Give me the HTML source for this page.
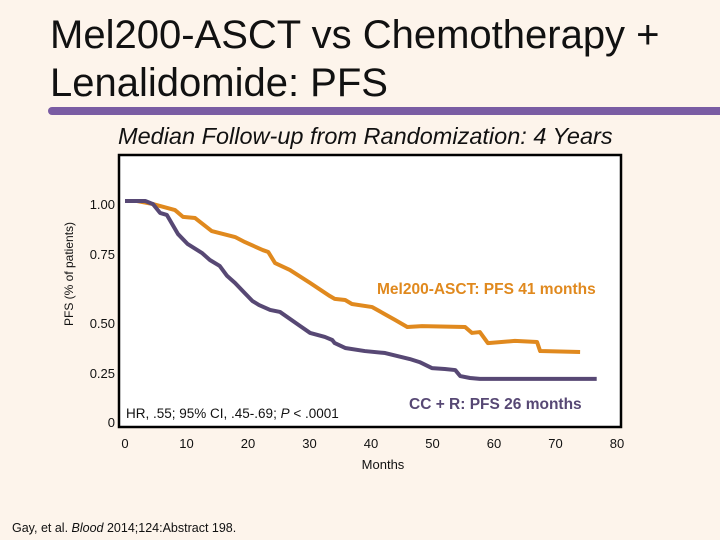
<!DOCTYPE html>
<html><head><meta charset="utf-8"><style>
body{margin:0;width:720px;height:540px;background:#fdf4eb;font-family:"Liberation Sans",sans-serif;overflow:hidden;position:relative}
.t{position:absolute;white-space:nowrap}
</style></head><body>
<div class="t" style="left:50px;top:11px;font-size:40px;line-height:48px;color:#111">Mel200-ASCT vs Chemotherapy +<br>Lenalidomide: PFS</div>
<div style="position:absolute;left:48px;top:107px;width:672px;height:8px;background:#7a5ca3;border-radius:4px 0 0 4px"></div>
<div class="t" style="left:118px;top:123px;font-size:23.5px;font-style:italic;color:#111">Median Follow-up from Randomization: 4 Years</div>
<svg width="720" height="540" style="position:absolute;left:0;top:0">
<g id="plot"></g>
</svg>
<div class="t" style="left:12px;top:521px;font-size:12.5px;color:#111">Gay, et al. <i>Blood</i> 2014;124:Abstract 198.</div>
<script>
const xTicks=[0,10,20,30,40,50,60,70,80];
const yTickLabels=["1.00","0.75","0.50","0.25","0"];
const yTickPos=[1.0,0.75,0.5,0.25,0];
const ascMonths=[0,1.95,4.55,8.13,9.43,11.4,14.1,17.9,19.5,22.4,23.3,24.4,26.8,30.1,33.3,34.1,35.8,36.9,40.2,43.9,45.9,48.3,55.3,56.4,57.7,59.0,63.4,67.0,67.5,74.0];
const ascValues=[1,1,0.986,0.959,0.928,0.923,0.864,0.837,0.814,0.778,0.769,0.719,0.688,0.629,0.570,0.557,0.552,0.534,0.520,0.462,0.430,0.434,0.430,0.403,0.407,0.357,0.367,0.362,0.321,0.317];
const ccrMonths=[0,0.8,3.3,4.55,5.7,6.8,8.6,10.2,12.5,13.8,15.4,16.6,17.9,19.3,20.7,21.8,23.6,25.2,28.5,30.1,32.5,33.7,34.1,35.8,39.0,42.3,46.3,47.9,49.9,52.0,53.7,54.5,56.1,57.7,63.4,74.0,76.7];
const ccrValues=[1,1,1,0.986,0.946,0.937,0.851,0.805,0.765,0.733,0.706,0.661,0.629,0.588,0.548,0.529,0.507,0.498,0.434,0.403,0.385,0.371,0.357,0.335,0.321,0.312,0.285,0.271,0.244,0.240,0.235,0.208,0.199,0.195,0.195,0.195,0.195];
const NS="http://www.w3.org/2000/svg";
const xS=m=>125+6.15*m;
const yS=v=>201+(1-v)*221;
const yLabelY=[204,254,323,373,422];
const g=document.getElementById('plot');
function mk(t,a){const e=document.createElementNS(NS,t);for(const k in a)e.setAttribute(k,a[k]);g.appendChild(e);return e;}
let r=mk('rect',{x:119,y:155,width:502,height:272,fill:'#fff',stroke:'#000','stroke-width':2.5});


xTicks.forEach(t=>{const e=mk('text',{x:xS(t),y:448,'font-size':13,'text-anchor':'middle',fill:'#111','font-family':'Liberation Sans'});e.textContent=t;

});
yTickLabels.forEach((t,i)=>{const e=mk('text',{x:115,y:yLabelY[i]+5,'font-size':13,'text-anchor':'end',fill:'#111','font-family':'Liberation Sans'});e.textContent=t;

});
function line(ms,vs,c,n){const p=mk('polyline',{points:ms.map((m,i)=>xS(m)+','+yS(vs[i])).join(' '),fill:'none',stroke:c,'stroke-width':4,'stroke-linejoin':'round'});

}
line(ascMonths,ascValues,'#e0891e','mel200-asct-curve');
line(ccrMonths,ccrValues,'#574874','cc-r-curve');
function txt(x,y,s,a,n){const e=mk('text',Object.assign({x:x,y:y,'font-family':'Liberation Sans'},a));e.textContent=s;

return e;}
txt(377,294,'Mel200-ASCT: PFS 41 months',{'font-size':15.5,'font-weight':'bold',fill:'#e0891e'},'mel200-label');
txt(409,409,'CC + R: PFS 26 months',{'font-size':15.5,'font-weight':'bold',fill:'#574874'},'cc-r-label');
const hr=txt(126,418,'HR, .55; 95% CI, .45-.69; ',{'font-size':13.5,fill:'#111'},'hr-annotation');
const ts=document.createElementNS(NS,'tspan');ts.setAttribute('font-style','italic');ts.textContent='P';hr.appendChild(ts);
const ts2=document.createElementNS(NS,'tspan');ts2.textContent=' < .0001';hr.appendChild(ts2);
txt(383,469,'Months',{'font-size':13,'text-anchor':'middle',fill:'#111'},'x-axis-title');
txt(0,0,'PFS (% of patients)',{'font-size':12,'text-anchor':'middle',fill:'#111',transform:'translate(73,274) rotate(-90)'},'y-axis-title');
</script>
</body></html>
